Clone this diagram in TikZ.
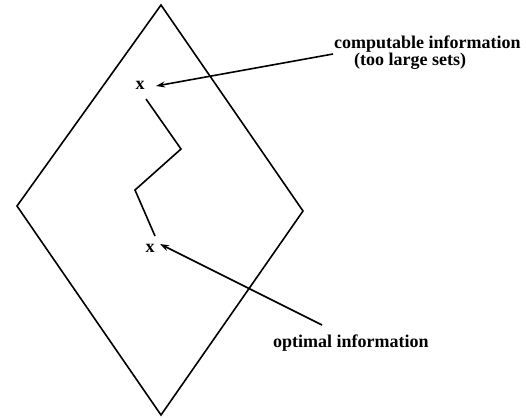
\documentclass[tikz,border=0pt]{standalone}
\usepackage{fontspec}
\setmainfont{Liberation Serif}
\usetikzlibrary{arrows.meta}
\begin{document}
\begin{tikzpicture}[x=1bp,y=-1bp,
  stroke/.style={line width=1.6bp,line join=miter},
  pointer/.style={stroke,-{Stealth[length=9bp,width=6bp]}},
  lbl/.style={font=\fontsize{18bp}{17bp}\selectfont\bfseries,inner sep=0pt}]
\useasboundingbox (0,0) rectangle (526,417);
% diamond
\coordinate (top) at (161,5);
\coordinate (left) at (17,206);
\coordinate (bottom) at (161,415);
\coordinate (right) at (303,211);
\draw[stroke] (top) -- (left) -- (bottom) -- (right) -- cycle;
% x marks
\node[lbl,anchor=base] (x1) at (140,89) {x};
\node[lbl,anchor=base] (x2) at (150,252) {x};
% zigzag path
\coordinate (z1) at (146,99);
\coordinate (z2) at (181,149);
\coordinate (z3) at (135,190);
\coordinate (z4) at (155,236);
\draw[stroke] (z1) -- (z2) -- (z3) -- (z4);
% labels
\node[lbl,anchor=base west] (comp) at (334,48) {computable information};
\node[lbl,anchor=base west] (large) at (354,65) {(too large sets)};
\node[lbl,anchor=base west] (opt) at (273,347) {optimal information};
% arrows
\coordinate (a1s) at (333,54);
\coordinate (a1e) at (156,86);
\coordinate (a2s) at (322,325);
\coordinate (a2e) at (160,244);
\draw[pointer] (a1s) -- (a1e);
\draw[pointer] (a2s) -- (a2e);
\end{tikzpicture}
\end{document}
